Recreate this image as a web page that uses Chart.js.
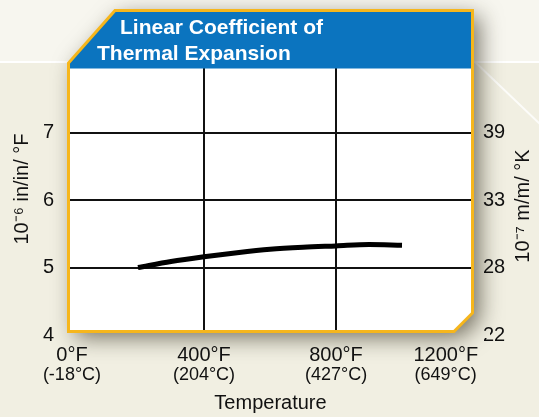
<!DOCTYPE html>
<html><head><meta charset="utf-8">
<script src="https://cdn.jsdelivr.net/npm/chart.js@4.4.1/dist/chart.umd.min.js"></script>
<style>html,body{margin:0;padding:0;background:#f0eee2;}#wrap{width:539px;height:417px;position:relative;overflow:hidden}</style>
</head><body><div id="wrap"><canvas id="c" width="539" height="417"></canvas></div>
<script>
// ---- data ----
const temperaturesF = [200, 300, 400, 500, 600, 700, 800, 900, 1000];
const coefficient = [5.00, 5.09, 5.16, 5.22, 5.27, 5.30, 5.32, 5.34, 5.33];
const xTickValues = [0, 400, 800, 1200];
const xTickLabelsF = ['0°F', '400°F', '800°F', '1200°F'];
const xTickLabelsC = ['(-18°C)', '(204°C)', '(427°C)', '(649°C)'];
const yTickValues = [4, 5, 6, 7];
const yTickLabelsLeft = ['4', '5', '6', '7'];
const yTickLabelsRight = ['22', '28', '33', '39'];
const xGridValues = [400, 800];
const yGridValues = [5, 6, 7];
const titleLines = ['Linear Coefficient of', 'Thermal Expansion'];
const leftAxisTitle = '10⁻⁶ in/in/ °F';
const rightAxisTitle = '10⁻⁷ m/m/ °K';
const xAxisTitle = 'Temperature';

// ---- styling ----
const FONT = '"Liberation Sans", Arial, Helvetica, sans-serif';
const TEXT = '#111111';
const BLUE = '#0b74bf';
const YELLOW = '#f6b61c';

function drawBg(ctx) {
  ctx.fillStyle = '#f1efe2';
  ctx.fillRect(0, 0, 539, 417);
  ctx.fillStyle = '#f7f6ef';
  ctx.fillRect(0, 0, 539, 61);
  ctx.fillStyle = '#ffffff';
  ctx.fillRect(0, 61, 539, 2);
  ctx.save();
  ctx.strokeStyle = 'rgba(255,255,255,0.8)';
  ctx.lineWidth = 2;
  ctx.beginPath(); ctx.moveTo(474, 61); ctx.lineTo(542, 126); ctx.stroke();
  ctx.restore();
}
function framePath(ctx) {
  ctx.beginPath();
  ctx.moveTo(115, 10.5);
  ctx.lineTo(472.5, 10.5);
  ctx.lineTo(472.5, 313);
  ctx.lineTo(454, 331.5);
  ctx.lineTo(68.5, 331.5);
  ctx.lineTo(68.5, 63);
  ctx.closePath();
}
function drawFrameFill(ctx) {
  ctx.save();
  ctx.shadowColor = 'rgba(40,36,20,0.62)';
  ctx.shadowBlur = 22;
  ctx.shadowOffsetX = 7;
  ctx.shadowOffsetY = 6;
  framePath(ctx);
  ctx.fillStyle = '#ffffff';
  ctx.fill();
  ctx.restore();
}

const framePlugin = {
  id: 'frame',
  beforeDraw(chart) {
    const ctx = chart.ctx;
    drawBg(ctx);
    drawFrameFill(ctx);
  },
  afterDatasetsDraw(chart) {
    const ctx = chart.ctx;
    // cover gridline overhang below the frame
    ctx.save();
    ctx.beginPath(); ctx.rect(60, 333, 430, 5); ctx.clip();
    drawBg(ctx); drawFrameFill(ctx);
    ctx.restore();
    // header
    ctx.save();
    framePath(ctx); ctx.clip();
    ctx.fillStyle = BLUE;
    ctx.fillRect(60, 0, 420, 68.5);
    ctx.restore();
    // border
    ctx.save();
    framePath(ctx);
    ctx.lineWidth = 3;
    ctx.strokeStyle = YELLOW;
    ctx.lineJoin = 'miter';
    ctx.stroke();
    ctx.restore();
    // header text
    ctx.save();
    ctx.fillStyle = '#ffffff';
    ctx.font = 'bold 21px ' + FONT;
    ctx.textBaseline = 'alphabetic';
    ctx.textAlign = 'left';
    ctx.fillText(titleLines[0], 120, 33.5);
    ctx.fillText(titleLines[1], 97, 59.5);
    ctx.restore();
    // vertical axis titles
    ctx.save();
    ctx.fillStyle = TEXT;
    ctx.font = '20px ' + FONT;
    ctx.textAlign = 'center';
    ctx.textBaseline = 'middle';
    ctx.translate(22, 189); ctx.rotate(-Math.PI / 2);
    ctx.fillText(leftAxisTitle, 0, 0);
    ctx.restore();
    ctx.save();
    ctx.fillStyle = TEXT;
    ctx.font = '20px ' + FONT;
    ctx.textAlign = 'center';
    ctx.textBaseline = 'middle';
    ctx.translate(523, 206); ctx.rotate(-Math.PI / 2);
    ctx.fillText(rightAxisTitle, 0, 0);
    ctx.restore();
  }
};

const setTicks = vals => scale => { scale.ticks = vals.map(v => ({ value: v })); };
const lastPad = (labels, n) => (v, i) => (i === labels.length - 1 ? labels[i] + '\u00a0'.repeat(n) : labels[i]);

new Chart(document.getElementById('c'), {
  type: 'line',
  data: {
    datasets: [{
      data: temperaturesF.map((t, i) => ({ x: t, y: coefficient[i] })),
      borderColor: '#000',
      borderWidth: 5,
      pointRadius: 0,
      cubicInterpolationMode: 'monotone',
      borderCapStyle: 'butt',
      fill: false
    }]
  },
  plugins: [framePlugin],
  options: {
    responsive: false,
    animation: false,
    devicePixelRatio: 1,
    layout: { padding: { top: 65, left: 0, right: 0, bottom: 0 } },
    plugins: { legend: { display: false }, title: { display: false }, tooltip: { enabled: false } },
    scales: {
      x: {
        type: 'linear', position: 'bottom', min: -6, max: 1209,
        afterBuildTicks: setTicks(xTickValues),
        afterFit: s => { s.height = 28; },
        border: { display: false },
        grid: {
          drawTicks: false, lineWidth: 2,
          color: c => (c.tick && xGridValues.includes(c.tick.value)) ? '#111' : 'rgba(0,0,0,0)'
        },
        ticks: { padding: 8, color: TEXT, font: { family: FONT, size: 20 }, maxRotation: 0, autoSkip: false,
          callback: lastPad(xTickLabelsF, 8) }
      },
      xc: {
        type: 'linear', position: 'bottom', min: -6, max: 1209,
        afterBuildTicks: setTicks(xTickValues),
        afterFit: s => { s.height = 54; },
        border: { display: false },
        grid: { display: false, drawTicks: false },
        ticks: { padding: 1, color: TEXT, font: { family: FONT, size: 18 }, maxRotation: 0, autoSkip: false,
          callback: lastPad(xTickLabelsC, 9) },
        title: { display: true, text: xAxisTitle, color: TEXT, font: { family: FONT, size: 20 }, padding: { top: 0, bottom: 2 } }
      },
      y: {
        type: 'linear', position: 'left', min: 4, max: 8,
        afterBuildTicks: setTicks(yTickValues),
        afterFit: s => { s.width = 70; },
        border: { display: false },
        grid: {
          drawTicks: false, lineWidth: 2,
          color: c => (c.tick && yGridValues.includes(c.tick.value)) ? '#111' : 'rgba(0,0,0,0)'
        },
        ticks: { padding: 16, color: TEXT, font: { family: FONT, size: 20 }, autoSkip: false,
          callback: (v, i) => yTickLabelsLeft[i] }
      },
      y2: {
        type: 'linear', position: 'right', min: 4, max: 8,
        afterBuildTicks: setTicks(yTickValues),
        afterFit: s => { s.width = 68; },
        border: { display: false },
        grid: { display: false, drawTicks: false },
        ticks: { padding: 12, color: TEXT, font: { family: FONT, size: 20 }, autoSkip: false,
          callback: (v, i) => yTickLabelsRight[i] }
      }
    }
  }
});
</script></body></html>
